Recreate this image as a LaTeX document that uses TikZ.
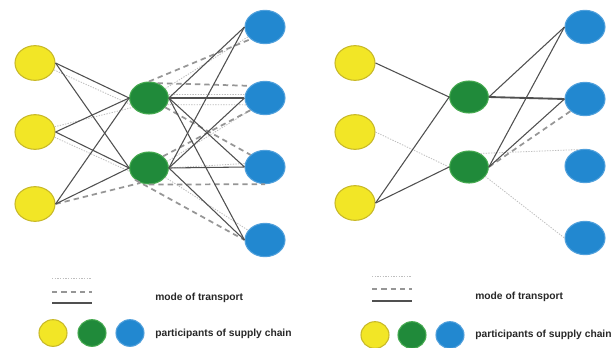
\documentclass[tikz,border=0pt]{standalone}
\usepackage{fontspec}
\setmainfont{Liberation Sans}
\usepackage{tikz}
\usetikzlibrary{shapes.geometric}
\definecolor{ylw}{RGB}{242,230,38}
\definecolor{ylwedge}{RGB}{200,185,40}
\definecolor{grn}{RGB}{32,138,58}
\definecolor{grnedge}{RGB}{70,170,80}
\definecolor{blu}{RGB}{34,136,208}
\definecolor{bluedge}{RGB}{80,160,220}

\begin{document}
\begin{tikzpicture}[x=0.75pt,y=-0.75pt]
\tikzstyle{every node}+=[inner sep=0pt]
\tikzstyle{ysite}=[ellipse,draw=ylwedge,fill=ylw,line width=0.8pt,minimum width=30pt,minimum height=26pt]
\tikzstyle{gsite}=[ellipse,draw=grnedge,fill=grn,line width=0.8pt,minimum width=29pt,minimum height=24pt]
\tikzstyle{bsite}=[ellipse,draw=bluedge,fill=blu,line width=0.8pt,minimum width=30pt,minimum height=25pt]
\tikzstyle{road}=[draw={rgb,255:red,80;green,80;blue,80},line width=0.8pt]
\tikzstyle{rail}=[draw={rgb,255:red,150;green,150;blue,150},line width=1.3pt,dash pattern=on 4pt off 3pt]
\tikzstyle{sea}=[draw={rgb,255:red,190;green,190;blue,190},line width=0.6pt,dash pattern=on 1pt off 1pt]
\tikzstyle{legtext}=[anchor=west,font=\fontsize{7.7}{9}\selectfont\bfseries,text={rgb,255:red,40;green,40;blue,40}]
\useasboundingbox (0,0) rectangle (613,347);
\fill [white] (0,0) rectangle (613,347);

\node [ysite] (ly1) at (35,63) {};
\node [ysite] (ly2) at (35,132) {};
\node [ysite] (ly3) at (35,204) {};
\node [gsite] (lg1) at (149,98) {};
\node [gsite] (lg2) at (149,168) {};
\node [bsite] (lb1) at (265,27) {};
\node [bsite] (lb2) at (265,98) {};
\node [bsite] (lb3) at (265,167) {};
\node [bsite] (lb4) at (265,240) {};

\draw [sea] (ly1.-20) -- (lg1.200);
\draw [sea] (ly2.15) -- (lg1.210);
\draw [sea] (ly2.-15) -- (lg2.190);
\draw [sea] (lg1.30) -- (lb1.210);
\draw [sea] (lg1.10) -- (lb2.170);
\draw [sea] (lg1.-20) -- (lb2.200);
\draw [sea] (lg2.20) -- (lb2.220);
\draw [sea] (lg2.0) -- (lb3.170);
\draw [sea] (lg2.-30) -- (lb4.150);

\draw [rail] (ly3.east) -- (lg2.240);
\draw [rail] (lg1.north) -- (lb1.220);
\draw [rail] (lg1.60) -- (lb2.north west);
\draw [rail] (lg1.-30) -- (lb3.north west);
\draw [rail] (lg2.north east) -- (lb2.south west);
\draw [rail] (lg2.south) -- (lb3.south);
\draw [rail] (lg2.south west) -- (lb4.west);

\draw [road] (ly1.east) -- (lg1.west);
\draw [road] (ly1.east) -- (lg2.west);
\draw [road] (ly2.east) -- (lg1.west);
\draw [road] (ly2.east) -- (lg2.west);
\draw [road] (ly3.east) -- (lg1.west);
\draw [road] (ly3.east) -- (lg2.west);
\draw [road] (lg1.east) -- (lb1.west);
\draw [road] (lg1.east) -- (lb2.west);
\draw [road] (lg1.east) -- (lb3.west);
\draw [road] (lg1.east) -- (lb4.west);
\draw [road] (lg2.east) -- (lb1.west);
\draw [road] (lg2.east) -- (lb2.west);
\draw [road] (lg2.east) -- (lb3.west);
\draw [road] (lg2.east) -- (lb4.west);

\node [ysite] (ry1) at (355,63) {};
\node [ysite] (ry2) at (355,132) {};
\node [ysite] (ry3) at (355,203) {};
\node [gsite] (rg1) at (469,97) {};
\node [gsite] (rg2) at (469,167) {};
\node [bsite] (rb1) at (585,27) {};
\node [bsite] (rb2) at (585,99) {};
\node [bsite] (rb3) at (585,166) {};
\node [bsite] (rb4) at (585,238) {};

\draw [sea] (ry2.east) -- (rg2.west);
\draw [sea] (rg2.50) -- (rb3.110);
\draw [sea] (rg2.-30) -- (rb4.west);
\draw [rail] (rg2.east) -- (rb2.south west);
\draw [road] (ry1.east) -- (rg1.west);
\draw [road] (ry3.east) -- (rg1.west);
\draw [road] (ry3.east) -- (rg2.west);
\draw [road] (rg1.east) -- (rb1.west);
\draw [road,line width=1.4pt] (rg1.east) -- (rb2.west);
\draw [road] (rg2.east) -- (rb1.west);
\draw [road] (rg2.east) -- (rb2.west);

% legend
\coordinate (la) at (52,278);
\coordinate (lb) at (92,278);
\coordinate (lc) at (52,292);
\coordinate (ld) at (92,292);
\coordinate (le) at (52,303);
\coordinate (lf) at (92,303);
\draw [sea] (la) -- (lb);
\draw [rail,line width=0.9pt] (lc) -- (ld);
\draw [road] (le) -- (lf);
\node [legtext] (lmode) at (155,298) {mode of transport};
\node [ysite,minimum width=21pt,minimum height=20pt] (lky) at (53,333) {};
\node [gsite,minimum width=21pt,minimum height=20pt] (lkg) at (92,333) {};
\node [bsite,minimum width=21pt,minimum height=20pt] (lkb) at (130,333) {};
\node [legtext] (lpart) at (155,334) {participants of supply chain};

\coordinate (ra) at (372,276);
\coordinate (rb) at (412,276);
\coordinate (rc) at (372,289);
\coordinate (rd) at (412,289);
\coordinate (re) at (372,301);
\coordinate (rf) at (412,301);
\draw [sea] (ra) -- (rb);
\draw [rail,line width=0.9pt] (rc) -- (rd);
\draw [road] (re) -- (rf);
\node [legtext] (rmode) at (475,297) {mode of transport};
\node [ysite,minimum width=21pt,minimum height=20pt] (rky) at (375,335) {};
\node [gsite,minimum width=21pt,minimum height=20pt] (rkg) at (412,335) {};
\node [bsite,minimum width=21pt,minimum height=20pt] (rkb) at (450,335) {};
\node [legtext] (rpart) at (475,335) {participants of supply chain};
\end{tikzpicture}
\end{document}
